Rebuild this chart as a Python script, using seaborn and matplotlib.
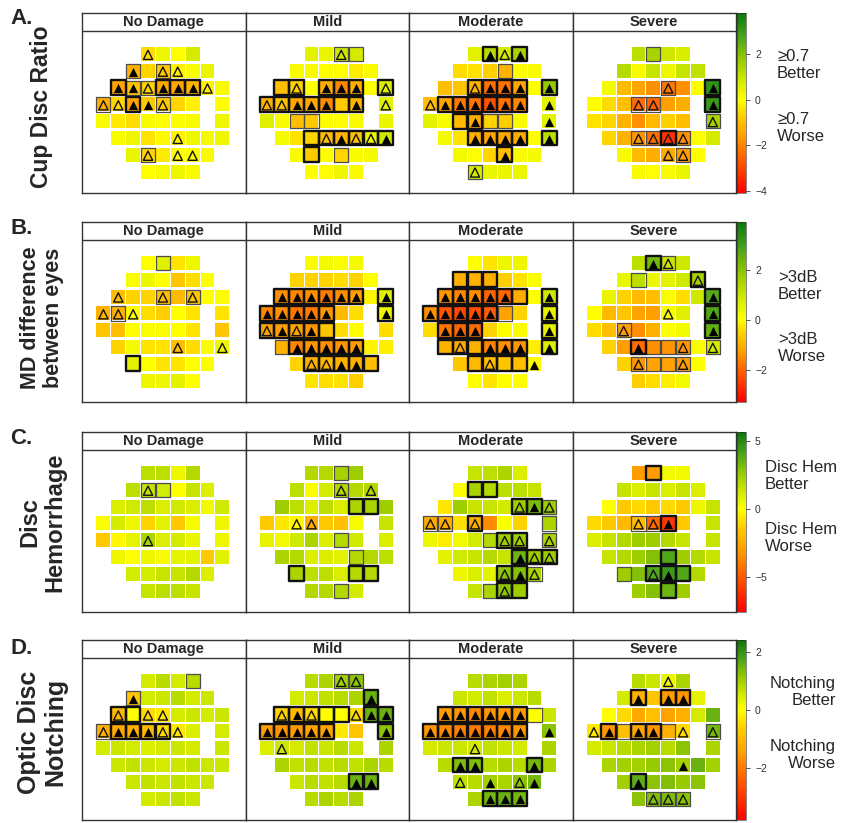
import matplotlib
matplotlib.use("Agg")
import matplotlib.pyplot as plt
import seaborn as sns
import pandas as pd
from matplotlib.colors import LinearSegmentedColormap, Normalize
from matplotlib.cm import ScalarMappable

# 24-2 field layout (right eye), blind spot gap at column 7 of rows 3-4
ROW_COLS = [[3, 4, 5, 6], [2, 3, 4, 5, 6, 7], [1, 2, 3, 4, 5, 6, 7, 8],
            [0, 1, 2, 3, 4, 5, 6, 8], [0, 1, 2, 3, 4, 5, 6, 8],
            [1, 2, 3, 4, 5, 6, 7, 8], [2, 3, 4, 5, 6, 7], [3, 4, 5, 6]]

STAGES = ["No Damage", "Mild", "Moderate", "Severe"]
MEASURES = ["Cup Disc Ratio", "MD difference\nbetween eyes", "Disc\nHemorrhage", "Optic Disc\nNotching"]
LETTERS = ["A.", "B.", "C.", "D."]
BETTER = ["≥0.7\nBetter", ">3dB\nBetter", "Disc Hem\nBetter", "Notching\nBetter"]
WORSE = ["≥0.7\nWorse", ">3dB\nWorse", "Disc Hem\nWorse", "Notching\nWorse"]
CBAR_RANGE = [(-4.1, 3.8), (-3.3, 3.9), (-7.6, 5.7), (-3.8, 2.4)]
CBAR_TICKS = [[-4, -2, 0, 2], [-2, 0, 2], [-5, 0, 5], [-2, 0, 2]]

# marks: '.' none, 'o' open triangle, '^' filled triangle
# boxes: '.' none, '-' thin grey frame, '#' thick black frame
# ---- A. cup disc ratio ----
cdr_none_val = [[-0.5, 0.3, 0.0, 0.8], [-1.2, -0.6, -0.8, -0.2, 0.1, 0.4],
                [-1.5, -0.9, -0.6, -1.4, -1.5, -1.2, -0.2, 0.1], [-1.3, -0.6, -1.5, -0.8, -0.8, -0.6, -0.2, 0.0],
                [0.1, -0.3, -0.5, 0.1, 0.0, 0.05, 0.1, 0.3], [0.1, 0.3, -0.4, -0.1, -0.2, 0.3, 0.2, 0.3],
                [0.4, -0.6, -0.3, 0.0, 0.0, 0.1], [0.0, 0.1, 0.3, 0.1]]
cdr_none_mark = "o... ^.oo.. ^^o^^^o. oo^^o... ........ ....o... .o.oo. ...."
cdr_none_box = ".... -.-... #--###.. -.#.-... ........ ........ .-.... ...."

cdr_mild_val = [[0.5, 0.4, 0.9, 0.8], [0.1, 0.1, 0.0, 0.0, -0.3, 0.1],
                [-1.0, -0.7, 0.0, -1.3, -2.0, -1.3, 0.0, 0.6], [-1.2, -0.9, -1.4, -1.4, -1.9, -0.8, -1.2, 0.5],
                [0.6, 0.1, -1.0, -0.8, 0.0, 0.0, 0.1, 0.4], [0.2, -0.4, -0.6, -1.0, -1.2, -0.9, 0.4, 0.9],
                [0.1, -0.8, 0.0, -0.6, 0.1, 0.2], [0.0, 0.0, 0.3, 0.1]]
cdr_mild_mark = "..o. ...... .o.^^^.o oo^^^.^o ........ ...o^oo^ ...... ...."
cdr_mild_box = "..-- ...... ##.###.# #######. ..--.... ..###### .#.-.. ...."

cdr_mod_val = [[0.5, 1.3, 0.8, 1.5], [-0.5, -0.4, -0.7, -1.2, 0.0, 0.1],
               [-1.0, -0.9, -1.2, -2.3, -2.3, -1.5, 0.0, 1.8], [-1.0, -1.5, -2.2, -2.3, -2.8, -2.3, -2.0, 0.5],
               [0.5, 0.1, -1.1, -1.3, -0.6, -0.7, 0.1, 0.5], [0.2, -0.4, -1.3, -1.5, -1.4, -1.3, 0.0, 1.2],
               [0.2, 0.0, -0.6, -1.0, 0.1, 0.2], [0.8, 0.4, 0.4, 0.4]]
cdr_mod_mark = ".^o^ ...... ..o^^^.^ o^^^^^^^ ...^...^ ..^^^^.^ ...^.. o..."
cdr_mod_box = ".#.# ...-.. ..####.# .######. ..##--.. ..####.# ...#.. -..."

cdr_sev_val = [[1.2, 1.5, 0.9, 0.7], [1.3, 0.1, 1.0, 0.3, 1.0, 1.1],
               [0.2, -1.1, -1.5, -1.8, -2.2, -1.8, 0.0, 3.2], [0.0, -0.5, -1.0, -2.4, -2.5, -1.6, -1.3, 3.0],
               [-0.4, -0.6, -1.2, -1.8, -1.1, -0.7, -1.0, 1.5], [-0.6, -1.2, -1.7, -2.3, -3.3, -1.8, 0.0, 0.8],
               [0.1, -1.1, -1.3, -1.4, -1.6, 0.0], [0.1, 0.0, 0.1, 0.4]]
cdr_sev_mark = ".... ...... ....o..^ ...oo..^ .......o ..oooo.. ...oo. ...."
cdr_sev_box = ".-.. ...... ....-..# ...--..# .......- ..--#-.. ....-. ...."

# ---- B. MD difference between eyes ----
md_none_val = [[0.0, 0.6, -0.3, 0.3], [0.1, 0.3, 0.0, -0.7, -0.4, 0.0],
               [-0.8, -0.5, -0.5, -0.8, -0.9, -0.7, 0.0, 0.05], [-1.0, -1.0, 0.0, -0.4, -0.6, 0.0, -0.3, -0.3],
               [-0.7, -0.8, 0.0, 0.1, 0.1, 0.0, -0.3, -0.7], [-0.5, 0.2, -0.3, -0.3, -0.8, -0.4, 0.1, 0.3],
               [0.5, 0.0, -0.3, -0.3, 0.0, 0.05], [0.3, 0.3, 0.5, 0.0]]
md_none_mark = ".... ...... o..o.o.. ooo..... ........ ....o..o ...... ...."
md_none_box = ".-.. ...... ...-.-.. .-...... ........ ........ #..... ...."

md_mild_val = [[0.1, 0.2, 0.1, 0.2], [-0.5, -0.5, -0.5, -0.4, -0.5, 0.0],
               [-1.5, -1.6, -1.5, -1.7, -1.5, -1.3, -0.1, 0.6], [-1.6, -1.5, -1.8, -1.7, -1.4, -0.9, -0.4, 0.3],
               [-1.2, -1.3, -1.2, -1.4, -0.7, -0.4, 0.0, -0.4], [-1.0, -1.6, -1.4, -1.5, -1.4, -1.3, -0.1, -0.2],
               [-0.5, -1.0, -0.9, -1.0, -1.0, -0.8], [-0.3, -0.4, -0.3, -0.6]]
md_mild_mark = ".... ...... ^^^^^^.^ ^^^^^..^ o^o^.... .^^^^^.. .oo^^. ...."
md_mild_box = ".... ...... ######.# #####..# #####... -#####.. .##### ...."

md_mod_val = [[0.0, -0.3, 0.3, 0.3], [-1.0, -1.0, -1.0, -0.6, -0.3, 0.1],
              [-1.4, -1.6, -1.5, -2.0, -2.0, -1.1, 0.0, 0.9], [-1.5, -2.2, -2.4, -2.3, -2.1, -1.2, -0.5, 0.5],
              [-0.4, -1.8, -2.0, -1.9, -0.5, 0.0, 0.1, 0.5], [-1.0, -1.1, -1.0, -1.6, -1.5, -1.4, -0.2, 0.7],
              [-0.7, -0.9, -0.8, -0.7, -0.8, -0.05], [0.0, -0.3, 0.0, 0.0]]
md_mod_mark = ".... ...... ^^^^^..^ ^^^^^..^ .^^^...^ .o.^^^.^ ..o..^ ...."
md_mod_box = ".... ###... ######.# #####-.# .###...# ######.# .####. ...."

md_sev_val = [[1.2, 2.3, 1.0, 0.9], [0.4, 1.2, 0.3, 0.5, 0.9, 1.6],
              [0.4, -0.5, -0.9, -0.8, 0.1, -0.4, 0.9, 2.7], [0.0, -0.9, -0.7, -1.2, -1.3, 0.1, 0.6, 2.8],
              [-0.4, -0.8, -1.3, -1.5, -1.0, 0.0, 0.2, 2.5], [-0.5, -1.3, -1.9, -1.5, -1.4, -1.4, 0.1, 0.8],
              [-0.5, -1.4, -1.2, -1.2, -1.3, 0.0], [-0.6, -0.4, -0.2, 0.2]]
md_sev_mark = ".^o. .....o .......^ .....o.^ ..o....^ ..^..o.o .o..o. ...."
md_sev_box = ".#-. .-...# .......# .......# ..-....# ..#---.- .----. ...."

# ---- C. disc hemorrhage ----
dh_none_val = [[1.8, 1.8, 0.5, 2.0], [1.8, 1.5, 1.2, 0.0, 1.5, 1.0],
               [1.0, 1.3, 1.8, 1.0, 1.3, 1.0, 0.3, 1.3], [0.1, 1.2, 0.5, -1.2, 0.8, -1.5, 0.2, 0.5],
               [-1.5, -0.2, 0.7, 2.2, 1.0, 1.2, 0.6, 0.5], [0.5, 0.0, 0.5, 0.2, 0.7, 0.8, -1.5, 0.8],
               [1.2, 1.2, 1.5, 1.5, 2.0, 1.0], [1.5, 1.8, 1.8, 1.5]]
dh_none_mark = ".... .o.... ........ ........ ...o.... ........ ...... ...."
dh_none_box = ".... .--... ........ ........ ........ ........ ...... ...."

dh_mild_val = [[2.0, 2.0, 2.3, 2.5], [1.8, 0.1, 1.2, 2.0, 2.0, 2.0],
               [2.5, 1.8, 1.0, 1.8, 1.0, 2.2, 2.2, 2.5], [-1.5, -0.6, -0.2, -2.5, -1.5, -1.8, 0.2, 1.5],
               [0.7, 0.3, 1.3, 2.2, 1.0, 2.0, 1.3, 1.0], [2.2, 2.0, 1.0, 1.0, 0.8, 2.0, 2.0, 1.8],
               [2.2, 1.8, 1.8, 1.0, 2.0, 2.0], [2.0, 2.0, 2.0, 1.2]]
dh_mild_mark = ".... ...o.o ........ ..oo.... ........ ........ ...... ...."
dh_mild_box = "..-. ...-.. .....##. ........ .....-.. .....-.. #...## ..-."

dh_mod_val = [[1.5, 1.8, 2.2, 1.0], [0.1, 2.3, 2.0, 1.8, 1.8, 1.5],
              [-0.6, 2.5, 1.5, 1.5, 1.2, 2.5, 3.2, 2.5], [-2.5, -2.5, -0.8, -2.5, -3.5, 0.0, -1.2, 2.2],
              [0.5, -0.5, 0.3, 1.2, 2.0, 2.5, 2.5, 2.2], [0.8, 1.3, 1.5, 2.0, 1.5, 3.5, 2.5, 2.5],
              [0.5, 1.0, 0.8, 2.8, 3.0, 2.2], [1.5, 2.2, 2.8, 2.5]]
dh_mod_mark = ".... ...... .....o^o oo.o.... .....ooo .....^oo ...o^o ..o."
dh_mod_box = ".... .##... .....##- --.#...- ....-##- .....### ...##- .-##"

dh_sev_val = [[-3.0, -3.0, 0.3, 0.3], [1.5, 1.0, 1.5, 1.0, 1.5, 1.0],
              [0.0, -1.5, -1.0, -1.5, -1.0, -1.5, 0.5, 1.5], [-1.0, -1.5, -2.0, -2.0, -4.5, -6.0, -1.5, 1.5],
              [1.0, 1.5, 2.0, 2.5, 2.5, 2.0, 1.5, 1.5], [1.5, 2.0, 2.5, 3.0, 4.0, 2.5, 2.0, 1.5],
              [2.5, 3.0, 4.0, 4.5, 4.0, 2.0], [2.5, 3.0, 3.5, 2.5]]
dh_sev_mark = ".... ...... ........ ...oo^.. ........ ........ ..o^.. ...."
dh_sev_box = ".#.. ...... ........ ...--#.. ........ ....#... -.###. ..#."

# ---- D. optic disc notching ----
nt_none_val = [[0.5, 0.8, 0.5, 0.8], [-0.8, 0.5, 0.6, 0.8, 0.5, 0.6],
               [-1.0, 0.0, -0.5, -0.3, 0.5, 0.6, 0.5, 0.6], [-1.2, -1.3, -1.2, -1.0, -0.5, -0.3, 0.4, 0.5],
               [0.5, 0.6, 0.5, 0.4, 0.5, 0.6, 0.5, 0.6], [0.6, 0.7, 0.6, 0.5, 0.6, 0.7, 0.6, 0.6],
               [0.6, 0.7, 0.6, 0.7, 0.6, 0.6], [0.5, 0.6, 0.7, 0.6]]
nt_none_mark = ".... ^..... o.oo.... o^^^oo.. ........ ........ ...... ...."
nt_none_box = "...- -..... ##...... -####... ........ ........ ...... ...."

nt_mild_val = [[0.8, 0.9, 1.0, 1.2], [0.5, 0.6, 0.7, 0.8, 0.9, 1.5],
               [-0.6, -1.0, -0.5, 0.0, 0.0, -0.5, 1.5, 1.5], [-1.5, -1.6, -1.5, -1.4, -1.4, -0.3, -0.8, 1.2],
               [0.4, 0.6, 0.5, 0.7, 0.6, 0.8, 0.6, 0.9], [0.9, 0.7, 0.8, 0.7, 0.8, 0.7, 0.9, 0.8],
               [0.6, 0.8, 0.7, 0.8, 1.5, 1.5], [0.8, 0.9, 0.8, 0.9]]
nt_mild_mark = "..oo .....^ o^o..o^^ ^^^^^..^ .o...... ........ ....^^ ...."
nt_mild_box = "..-- .....# #####.## #####..# ........ ........ ....## ...."

nt_mod_val = [[0.8, 0.9, 1.0, 0.9], [0.6, 0.5, 0.7, 0.4, 0.6, 0.8],
              [-1.5, -1.6, -1.8, -1.6, -1.6, -1.5, 0.0, 0.6], [-1.6, -1.8, -1.9, -2.0, -1.9, -1.8, -1.6, 1.2],
              [0.5, 0.6, 0.6, 0.5, 0.7, 0.6, 0.5, 0.9], [0.8, 1.3, 1.3, 0.8, 0.9, 0.8, 1.4, 0.9],
              [0.7, 0.8, 1.0, 0.9, 1.2, 1.4], [0.9, 1.4, 1.5, 1.4]]
nt_mod_mark = ".... ...... ^^^^^^.. ^^^^^^^^ ...o.... .^^...^. o.^.o^ .^^^"
nt_mod_box = ".... ...... ######-. #######. ........ .##...#. ...... .###"

nt_sev_val = [[0.8, 0.6, 0.2, 0.9], [0.5, -1.2, -0.8, -1.5, -1.6, 0.3],
              [0.0, -0.5, -1.3, -0.9, -1.4, -1.2, 0.5, 1.5], [-0.3, -1.6, -0.9, -1.4, -1.6, -1.2, -0.5, 1.4],
              [0.5, 0.6, 0.8, 0.9, 1.0, 0.8, 1.2, 0.9], [0.9, 1.0, 1.0, 1.1, 1.2, 1.0, 1.5, 1.0],
              [1.0, 1.6, 1.2, 1.3, 1.1, 1.2], [1.2, 1.3, 1.3, 1.2]]
nt_sev_mark = "..o. .^.^^. ........ o^.^^.oo ........ .....^.. .^.... .ooo"
nt_sev_box = ".... .#.##. ........ .#-##-.- ........ ........ .#.... .---"

PANELS = [
    [(cdr_none_val, cdr_none_mark, cdr_none_box), (cdr_mild_val, cdr_mild_mark, cdr_mild_box),
     (cdr_mod_val, cdr_mod_mark, cdr_mod_box), (cdr_sev_val, cdr_sev_mark, cdr_sev_box)],
    [(md_none_val, md_none_mark, md_none_box), (md_mild_val, md_mild_mark, md_mild_box),
     (md_mod_val, md_mod_mark, md_mod_box), (md_sev_val, md_sev_mark, md_sev_box)],
    [(dh_none_val, dh_none_mark, dh_none_box), (dh_mild_val, dh_mild_mark, dh_mild_box),
     (dh_mod_val, dh_mod_mark, dh_mod_box), (dh_sev_val, dh_sev_mark, dh_sev_box)],
    [(nt_none_val, nt_none_mark, nt_none_box), (nt_mild_val, nt_mild_mark, nt_mild_box),
     (nt_mod_val, nt_mod_mark, nt_mod_box), (nt_sev_val, nt_sev_mark, nt_sev_box)],
]


def to_frame(vals, marks, boxes):
    rows = []
    mark_rows = marks.split()
    box_rows = boxes.split()
    for r, cols in enumerate(ROW_COLS):
        for i, c in enumerate(cols):
            rows.append({"row": r, "col": c, "value": vals[r][i],
                         "mark": mark_rows[r][i], "box": box_rows[r][i]})
    return pd.DataFrame(rows)


def make_cmap(vmin, vmax):
    z = -vmin / (vmax - vmin)
    neg = [(1.0, "#ff0000"), (0.65, "#ff5a00"), (0.4, "#ff9c00"), (0.15, "#ffd400"), (0.0, "#ffff00")]
    pos = [(0.22, "#d2ea00"), (0.45, "#9ccc00"), (0.75, "#45a01e"), (1.0, "#0b780b")]
    nodes = [(z - f * z, c) for f, c in neg] + [(z + f * (1 - z), c) for f, c in pos]
    return LinearSegmentedColormap.from_list("vf", nodes)


W, H = 842, 823
fig = plt.figure(figsize=(W / 100, H / 100), dpi=100)
sns.set_style("white")
plt.rcParams["font.family"] = ["Liberation Sans", "DejaVu Sans"]

ROW_TOP = [13, 222, 432, 640]
PANEL_H = 180
PANEL_LEFT = 82
PANEL_W = 163.5
LABEL_SIZE = [16.5, 15.5, 17, 18]
LABEL_Y = [107, 318, 522, 732]
LETTER_Y = [19, 229, 439, 648]

for m in range(4):
    vmin, vmax = CBAR_RANGE[m]
    cmap = make_cmap(vmin, vmax)
    norm = Normalize(vmin=vmin, vmax=vmax)
    top = ROW_TOP[m]
    for s in range(4):
        vals, marks, boxes = PANELS[m][s]
        df = to_frame(vals, marks, boxes)
        left = PANEL_LEFT + s * PANEL_W
        ax = fig.add_axes([left / W, 1 - (top + PANEL_H) / H, PANEL_W / W, PANEL_H / H])
        sns.scatterplot(data=df, x="col", y="row", hue="value", palette=cmap, hue_norm=norm,
                        marker="s", s=100, linewidth=0, legend=False, ax=ax)
        thin = df[df["box"] == "-"]
        thick = df[df["box"] == "#"]
        ax.scatter(thin["col"], thin["row"], marker="s", s=104, facecolors="none",
                   edgecolors="#4d4d4d", linewidths=0.9, zorder=3)
        ax.scatter(thick["col"], thick["row"], marker="s", s=112, facecolors="none",
                   edgecolors="#111111", linewidths=1.7, zorder=4)
        opn = df[df["mark"] == "o"]
        fil = df[df["mark"] == "^"]
        ax.scatter(opn["col"], opn["row"] + 0.05, marker="^", s=44, facecolors="none",
                   edgecolors="#111111", linewidths=1.0, zorder=5)
        ax.scatter(fil["col"], fil["row"] + 0.05, marker="^", s=44, color="#000000",
                   linewidths=0, zorder=5)
        ax.set_xlim(-1.44, 9.56)
        ax.set_ylim(8.27, -2.44)
        ax.axhline(-1.34, color="#333333", lw=1.0)
        ax.text(4.06, -1.89, STAGES[s], ha="center", va="center", fontsize=10.5, fontweight="bold")
        ax.set_xticks([])
        ax.set_yticks([])
        ax.set_xlabel("")
        ax.set_ylabel("")
        for sp in ax.spines.values():
            sp.set_visible(True)
            sp.set_color("#333333")
            sp.set_linewidth(1.0)

    # colour bar
    cax = fig.add_axes([737 / W, 1 - (top + PANEL_H) / H, 9 / W, PANEL_H / H])
    cb = fig.colorbar(ScalarMappable(norm=norm, cmap=cmap), cax=cax, ticks=CBAR_TICKS[m])
    cb.outline.set_linewidth(0.4)
    cb.ax.tick_params(labelsize=7.5, length=3, width=0.6, colors="#333333")

    # side labels
    fig.text(10 / W, 1 - LETTER_Y[m] / H, LETTERS[m], fontsize=16, fontweight="bold",
             ha="left", va="center")
    fig.text(42 / W, 1 - LABEL_Y[m] / H, MEASURES[m], fontsize=LABEL_SIZE[m], fontweight="bold",
             rotation=90, ha="center", va="center", multialignment="center", linespacing=1.1)

TEXT_POS = [(777, 65, 128, "left"), (778, 286, 348, "left"), (765, 476, 538, "left"), (836, 692, 755, "right")]
for m in range(4):
    x, yb, yw, ha = TEXT_POS[m]
    fig.text(x / W, 1 - yb / H, BETTER[m], fontsize=12, ha=ha, va="center", multialignment=ha,
             linespacing=1.2)
    fig.text(x / W, 1 - yw / H, WORSE[m], fontsize=12, ha=ha, va="center", multialignment=ha,
             linespacing=1.2)

fig.savefig("out.png", dpi=100, facecolor="white")
